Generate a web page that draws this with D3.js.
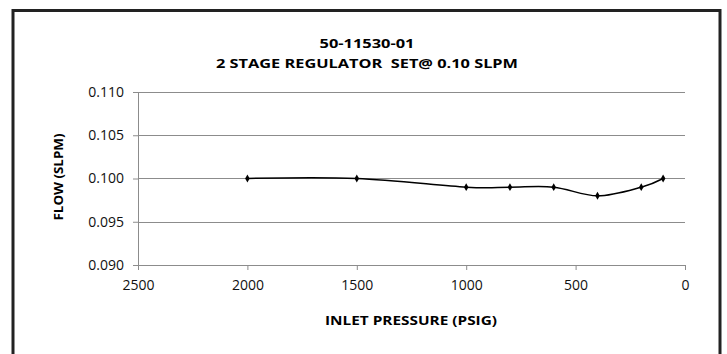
<!DOCTYPE html>
<html>
<head>
<meta charset="utf-8">
<script src="https://cdn.jsdelivr.net/npm/d3@7"></script>
<style>
  body { margin: 0; background: #fff; }
  svg { display: block; font-family: "Open Sans", "DejaVu Sans", sans-serif; }
</style>
</head>
<body>
<div id="chart-area"></div>
<script>
/* data */
const pressure = [2000, 1500, 1000, 800, 600, 400, 200, 100]
const flow = [0.100, 0.100, 0.099, 0.099, 0.099, 0.098, 0.099, 0.100]
const xTicks = [2500, 2000, 1500, 1000, 500, 0]
const yTicks = [0.090, 0.095, 0.100, 0.105, 0.110]
const titleLines = ['50-11530-01', '2 STAGE REGULATOR  SET@ 0.10 SLPM']

const CANVAS_WIDTH = 727
const CANVAS_HEIGHT = 354
const margin = { top: 92, bottom: 89, left: 138, right: 42 }
const width = CANVAS_WIDTH - margin.left - margin.right
const height = CANVAS_HEIGHT - margin.top - margin.bottom

const $svg = d3.select('#chart-area')
	.append('svg')
	.attr('width', CANVAS_WIDTH)
	.attr('height', CANVAS_HEIGHT)

// outer frame
$svg.append('rect')
	.attr('x', 13)
	.attr('y', 10.5)
	.attr('width', 707)
	.attr('height', 360)
	.attr('fill', 'none')
	.attr('stroke', '#222')
	.attr('stroke-width', 3)

const $scene = $svg.append('g')
	.attr('transform', `translate(${margin.left}, ${margin.top})`)

/* Scales */
const xScale = d3.scaleLinear()
	.domain([2500, 0])
	.range([0, width])

const yScale = d3.scaleLinear()
	.domain([0.090, 0.110])
	.range([height, 0])

/* gridlines */
$scene.append('g')
	.selectAll('line')
	.data(yTicks.filter(d => d > 0.090))
	.join('line')
	.attr('x1', 0)
	.attr('x2', width)
	.attr('y1', d => Math.round(yScale(d)) + 0.5)
	.attr('y2', d => Math.round(yScale(d)) + 0.5)
	.attr('stroke', '#8c8c8c')
	.attr('stroke-width', 1)

/* Axes */
const xAxisCall = d3.axisBottom(xScale)
	.tickValues(xTicks)
	.tickSize(5)
	.tickPadding(10)
	.tickFormat(d3.format('d'))

const yAxisCall = d3.axisLeft(yScale)
	.tickValues(yTicks)
	.tickSize(5)
	.tickPadding(9)
	.tickFormat(d3.format('.3f'))

const $xAxisGroup = $scene.append('g')
	.attr('transform', `translate(0, ${height})`)
	.call(xAxisCall)

const $yAxisGroup = $scene.append('g')
	.call(yAxisCall)

;[$xAxisGroup, $yAxisGroup].forEach($g => {
	$g.select('.domain').attr('stroke', '#8c8c8c')
	$g.selectAll('.tick line').attr('stroke', '#8c8c8c')
	$g.selectAll('.tick text')
		.attr('fill', '#111')
		.attr('font-size', 14)
		.attr('font-family', '"Open Sans", sans-serif')
})

/* line */
const points = pressure.map((p, i) => [p, flow[i]])
const line = d3.line()
	.x(d => xScale(d[0]))
	.y(d => yScale(d[1]))
	.curve(d3.curveCardinal.tension(0))

$scene.append('path')
	.datum(points)
	.attr('d', line)
	.attr('fill', 'none')
	.attr('stroke', '#000')
	.attr('stroke-width', 1.5)

$scene.append('g')
	.selectAll('path')
	.data(points)
	.join('path')
	.attr('transform', d => `translate(${xScale(d[0])}, ${yScale(d[1])})`)
	.attr('d', d3.symbol(d3.symbolDiamond, 18))
	.attr('fill', '#000')

/* Labels */
const titleWidths = [95, 302]
const $title = $svg.append('g')
titleLines.forEach((t, i) => {
	$title.append('text')
		.attr('x', 367)
		.attr('y', 48 + i * 20)
		.attr('text-anchor', 'middle')
		.attr('font-size', 13)
		.attr('font-weight', 'bold')
		.attr('textLength', titleWidths[i])
		.attr('lengthAdjust', 'spacingAndGlyphs')
		.style('white-space', 'pre')
		.text(t)
})

$svg.append('text')
	.attr('transform', `translate(411, 325)`)
	.attr('text-anchor', 'middle')
	.attr('font-size', 13)
	.attr('font-weight', 'bold')
	.attr('textLength', 172)
	.attr('lengthAdjust', 'spacingAndGlyphs')
	.text('INLET PRESSURE (PSIG)')

$svg.append('text')
	.attr('transform', `translate(63, 177) rotate(-90)`)
	.attr('text-anchor', 'middle')
	.attr('font-size', 13)
	.attr('font-weight', 'bold')
	.attr('textLength', 87)
	.attr('lengthAdjust', 'spacingAndGlyphs')
	.text('FLOW (SLPM)')
</script>
</body>
</html>
